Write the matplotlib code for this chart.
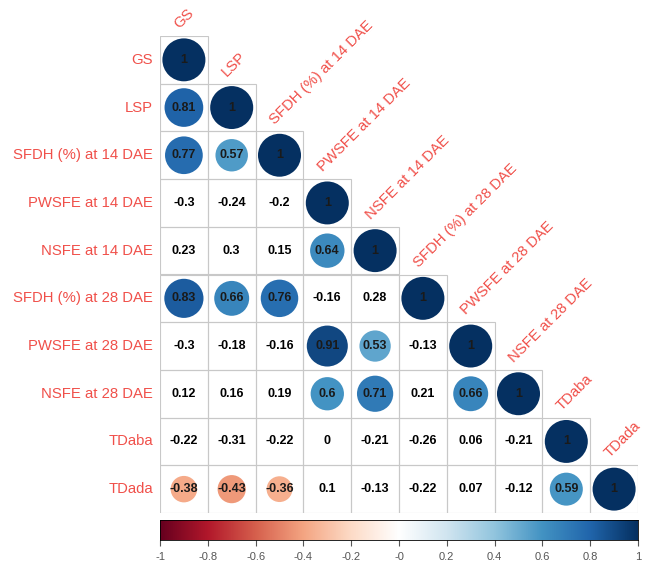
import numpy as np
import matplotlib.pyplot as plt
from matplotlib.colors import LinearSegmentedColormap
from matplotlib.patches import Circle, Rectangle

plt.rcParams['font.family'] = ['Liberation Sans', 'DejaVu Sans']

labels = ['GS', 'LSP', 'SFDH (%) at 14 DAE', 'PWSFE at 14 DAE', 'NSFE at 14 DAE',
          'SFDH (%) at 28 DAE', 'PWSFE at 28 DAE', 'NSFE at 28 DAE', 'TDaba', 'TDada']

# lower triangle, row by row (diagonal = 1)
lower = [
    [],
    [0.81],
    [0.77, 0.57],
    [-0.3, -0.24, -0.2],
    [0.23, 0.3, 0.15, 0.64],
    [0.83, 0.66, 0.76, -0.16, 0.28],
    [-0.3, -0.18, -0.16, 0.91, 0.53, -0.13],
    [0.12, 0.16, 0.19, 0.6, 0.71, 0.21, 0.66],
    [-0.22, -0.31, -0.22, 0, -0.21, -0.26, 0.06, -0.21],
    [-0.38, -0.43, -0.36, 0.1, -0.13, -0.22, 0.07, -0.12, 0.59],
]
sig_level = 0.35  # circles drawn only for significant correlations

cols = ["#67001F", "#B2182B", "#D6604D", "#F4A582", "#FDDBC7", "#FFFFFF",
        "#D1E5F0", "#92C5DE", "#4393C3", "#2166AC", "#053061"]
cmap = LinearSegmentedColormap.from_list('corr', cols)

n = len(labels)
fig = plt.figure(figsize=(6.45, 5.66), dpi=100)
W, H = 645, 566
x0, x1, y0, y1 = 160, 638, 36, 513
ax = fig.add_axes([x0 / W, 1 - y1 / H, (x1 - x0) / W, (y1 - y0) / H])
ax.set_xlim(-0.5, n - 0.5)
ax.set_ylim(n - 0.5, -0.5)
ax.axis('off')

red = '#F0504A'
for i in range(n):
    vals = lower[i] + [1.0]
    for j, r in enumerate(vals):
        ax.add_patch(Rectangle((j - 0.5, i - 0.5), 1, 1, fill=False,
                               edgecolor='#C8C8C8', lw=0.8))
        txt = '1' if r == 1.0 else ('%g' % r)
        if abs(r) > sig_level:
            ax.add_patch(Circle((j, i), 0.45 * np.sqrt(abs(r)),
                                color=cmap((r + 1) / 2), lw=0))
            tc = '#1a1a1a'
        else:
            tc = 'black'
        ax.text(j, i, txt, ha='center', va='center', fontsize=9,
                fontweight='bold', color=tc)
    ax.text(-0.65, i, labels[i], ha='right', va='center', fontsize=10.7,
            color=red, clip_on=False)
    ax.text(i - 0.05, i - 0.6, labels[i], ha='left', va='bottom', fontsize=10.7,
            color=red, rotation=45, rotation_mode='anchor', clip_on=False)

# colour legend
cax = fig.add_axes([x0 / W, 1 - 540 / H, (x1 - x0) / W, 20 / H])
grad = np.linspace(-1, 1, 256).reshape(1, -1)
cax.imshow(grad, aspect='auto', cmap=cmap, extent=[-1, 1, 0, 1], vmin=-1, vmax=1)
cax.set_yticks([])
ticks = np.round(np.arange(-1, 1.01, 0.2), 1)
cax.set_xticks(ticks)
cax.set_xticklabels(['%g' % t for t in ticks])
cax.tick_params(axis='x', length=4, colors='#555555', labelsize=8, pad=5)
for s in cax.spines.values():
    s.set_linewidth(0.6)

plt.savefig('out.png', dpi=100)
